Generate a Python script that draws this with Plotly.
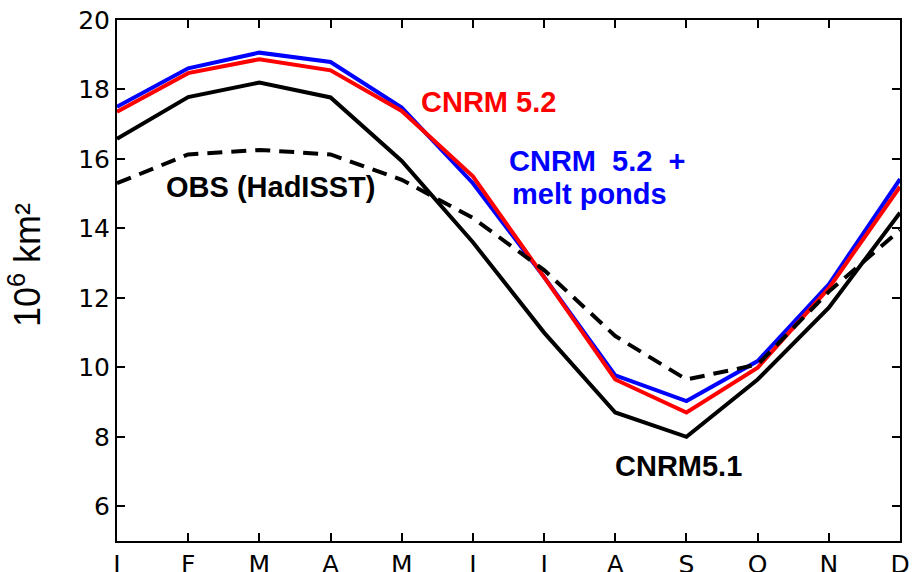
import plotly.graph_objects as go

months = ["J", "F", "M", "A", "M", "J", "J", "A", "S", "O", "N", "D"]
month_idx = list(range(12))

cnrm52_melt_ponds = [17.5, 18.61, 19.06, 18.79, 17.48, 15.3, 12.6, 9.77, 9.03, 10.18, 12.39, 15.42]
cnrm52 = [17.36, 18.47, 18.87, 18.55, 17.38, 15.5, 12.6, 9.65, 8.7, 9.99, 12.28, 15.2]
cnrm51 = [16.58, 17.78, 18.2, 17.77, 15.94, 13.6, 11.0, 8.70, 8.0, 9.65, 11.72, 14.45]
obs_hadisst = [15.3, 16.13, 16.26, 16.13, 15.4, 14.3, 12.8, 10.9, 9.65, 10.08, 12.18, 13.95]

y_ticks = [6, 8, 10, 12, 14, 16, 18, 20]

fig = go.Figure()
fig.add_trace(go.Scatter(x=month_idx, y=cnrm51, mode="lines",
                         line=dict(color="black", width=4), name="CNRM5.1"))
fig.add_trace(go.Scatter(x=month_idx, y=cnrm52_melt_ponds, mode="lines",
                         line=dict(color="#0000ff", width=4), name="CNRM 5.2 + melt ponds"))
fig.add_trace(go.Scatter(x=month_idx, y=cnrm52, mode="lines",
                         line=dict(color="#ff0000", width=4), name="CNRM 5.2"))
fig.add_trace(go.Scatter(x=month_idx, y=obs_hadisst, mode="lines",
                         line=dict(color="black", width=4, dash="15px,9px"), name="OBS (HadISST)"))

L, R, T, B = 117, 12, 20, 31
W, H = 912, 572
pw = W - L - R
ph = H - T - B

def px_to_paper(px, py):
    return (px - L) / pw, 1 - (py - T) / ph

lab_font = dict(family="Liberation Sans, Arial, sans-serif", size=29)
annos = [
    ("<b>CNRM 5.2</b>", 488, 102, "#ff0000"),
    ("<b>CNRM  5.2  +</b>", 597, 161, "#0000ff"),
    ("<b>melt ponds</b>", 589, 194, "#0000ff"),
    ("<b>OBS (HadISST)</b>", 270, 187, "black"),
    ("<b>CNRM5.1</b>", 678, 466, "black"),
]
for text, px, py, col in annos:
    xp, yp = px_to_paper(px, py)
    fig.add_annotation(text=text, x=xp, y=yp, xref="paper", yref="paper",
                       xanchor="center", yanchor="middle", showarrow=False,
                       font=dict(lab_font, color=col))

xp, yp = px_to_paper(25, 265)
fig.add_annotation(text="10<sup>6</sup> km²", x=xp, y=yp, xref="paper", yref="paper",
                   xanchor="center", yanchor="middle", showarrow=False, textangle=-90,
                   font=dict(family="Liberation Sans, Arial, sans-serif", size=36, color="black"))

tick_font = dict(family="DejaVu Sans, sans-serif", size=25, color="black")
fig.update_xaxes(range=[0, 11], tickmode="array", tickvals=month_idx, ticktext=months,
                 ticks="inside", ticklen=8, tickwidth=1.5, tickcolor="black",
                 showline=True, linewidth=2, linecolor="black", mirror="ticks",
                 showgrid=False, zeroline=False, tickfont=tick_font, automargin=False)
fig.update_yaxes(range=[5, 20], tickmode="array", tickvals=y_ticks,
                 ticks="inside", ticklen=8, tickwidth=1.5, tickcolor="black",
                 showline=True, linewidth=2, linecolor="black", mirror="ticks",
                 showgrid=False, zeroline=False, tickfont=tick_font, automargin=False)
fig.update_layout(width=W, height=H, margin=dict(l=L, r=R, t=T, b=B, autoexpand=False),
                  plot_bgcolor="white", paper_bgcolor="white", showlegend=False)

fig.write_html("out.html", config={"displayModeBar": False},
               post_script="document.body.style.margin='0px';document.body.style.overflow='hidden';")
